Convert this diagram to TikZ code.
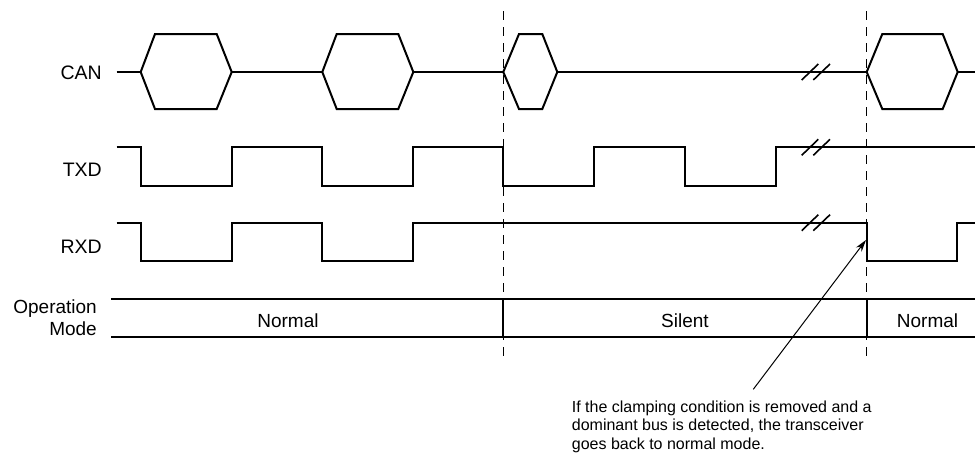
\documentclass[tikz,border=0pt]{standalone}
\usepackage{fontspec}
\setmainfont{Liberation Sans}
\usetikzlibrary{arrows.meta}
\begin{document}
\begin{tikzpicture}[x=1pt,y=-1pt,
  wave/.style={line width=2pt, line join=miter},
  guide/.style={line width=1.3pt, dash pattern=on 9pt off 7pt},
  brk/.style={line width=1.6pt},
  lbl/.style={font=\fontsize{19.5}{22}\selectfont, inner sep=0pt, anchor=east},
  mode/.style={font=\fontsize{19}{22}\selectfont, inner sep=0pt},
  note/.style={font=\fontsize{16}{18.7}\selectfont, inner sep=0pt, align=left, anchor=north west}]
\useasboundingbox (0,0) rectangle (975,455);
% labels
\node[lbl] (lcan) at (102,72.5) {CAN};
\node[lbl] (ltxd) at (102,170) {TXD};
\node[lbl] (lrxd) at (102,246.5) {RXD};
\node[lbl, align=right, font=\fontsize{19}{21.7}\selectfont] (lmode) at (97,318) {Operation\\Mode};
% guide lines
\draw[guide] (503.3,11) -- (503.3,362);
\draw[guide] (866.7,11) -- (866.7,362);
% CAN
\draw[wave] (116.7,72) -- (140.7,72);
\draw[wave] (140.7,72) -- (155,34) -- (216.7,34) -- (231.7,72) -- (216.7,109) -- (155,109) -- cycle;
\draw[wave] (231.7,72) -- (322.3,72);
\draw[wave] (322.3,72) -- (336.7,34) -- (398.3,34) -- (413.3,72) -- (398.3,109) -- (336.7,109) -- cycle;
\draw[wave] (413.3,72) -- (503.3,72);
\draw[wave] (503.3,72) -- (519,34) -- (542.3,34) -- (557.3,72) -- (542.3,109) -- (519,109) -- cycle;
\draw[wave] (557.3,72) -- (866.7,72);
\draw[wave] (866.7,72) -- (882.3,34) -- (942.7,34) -- (957.7,72) -- (942.7,109) -- (882.3,109) -- cycle;
\draw[wave] (957.7,72) -- (975,72);
% TXD
\draw[wave] (116.7,147.3) -- (140.7,147.3) -- (140.7,185.7) -- (231.7,185.7) -- (231.7,147.3)
  -- (322.3,147.3) -- (322.3,185.7) -- (413.3,185.7) -- (413.3,147.3) -- (503.3,147.3)
  -- (503.3,185.7) -- (594.3,185.7) -- (594.3,147.3) -- (685,147.3) -- (685,185.7)
  -- (776,185.7) -- (776,147.3) -- (975,147.3);
% RXD
\draw[wave] (116.7,222.7) -- (140.7,222.7) -- (140.7,261) -- (231.7,261) -- (231.7,222.7)
  -- (322.3,222.7) -- (322.3,261) -- (413.3,261) -- (413.3,222.7) -- (866.7,222.7)
  -- (866.7,261) -- (957.3,261) -- (957.3,222.7) -- (975,222.7);
% break marks
\foreach \yy in {72,147.3,222.7}{
  \draw[brk] (801.7,\yy+8) -- (818.3,\yy-8);
  \draw[brk] (813.3,\yy+8) -- (830,\yy-8);
}
% operation mode
\draw[wave] (111,299) -- (975,299);
\draw[wave] (111,336.7) -- (975,336.7);
\draw[wave] (503.3,299) -- (503.3,336.7);
\draw[wave] (866.7,299) -- (866.7,336.7);
\node[mode] (mn1) at (288,320.5) {Normal};
\node[mode] (ms) at (685,320.5) {Silent};
\node[mode] (mn2) at (927.5,320.5) {Normal};
% annotation
\coordinate (tip) at (866,240);
\node[note] (note) at (571.7,400.5) {If the clamping condition is removed and a\\dominant bus is detected, the transceiver\\goes back to normal mode.};
\coordinate (tail) at (753.3,389.3);
\draw[line width=1pt, -{Stealth[length=12pt,width=7pt]}] (tail) -- (tip);
\end{tikzpicture}
\end{document}
